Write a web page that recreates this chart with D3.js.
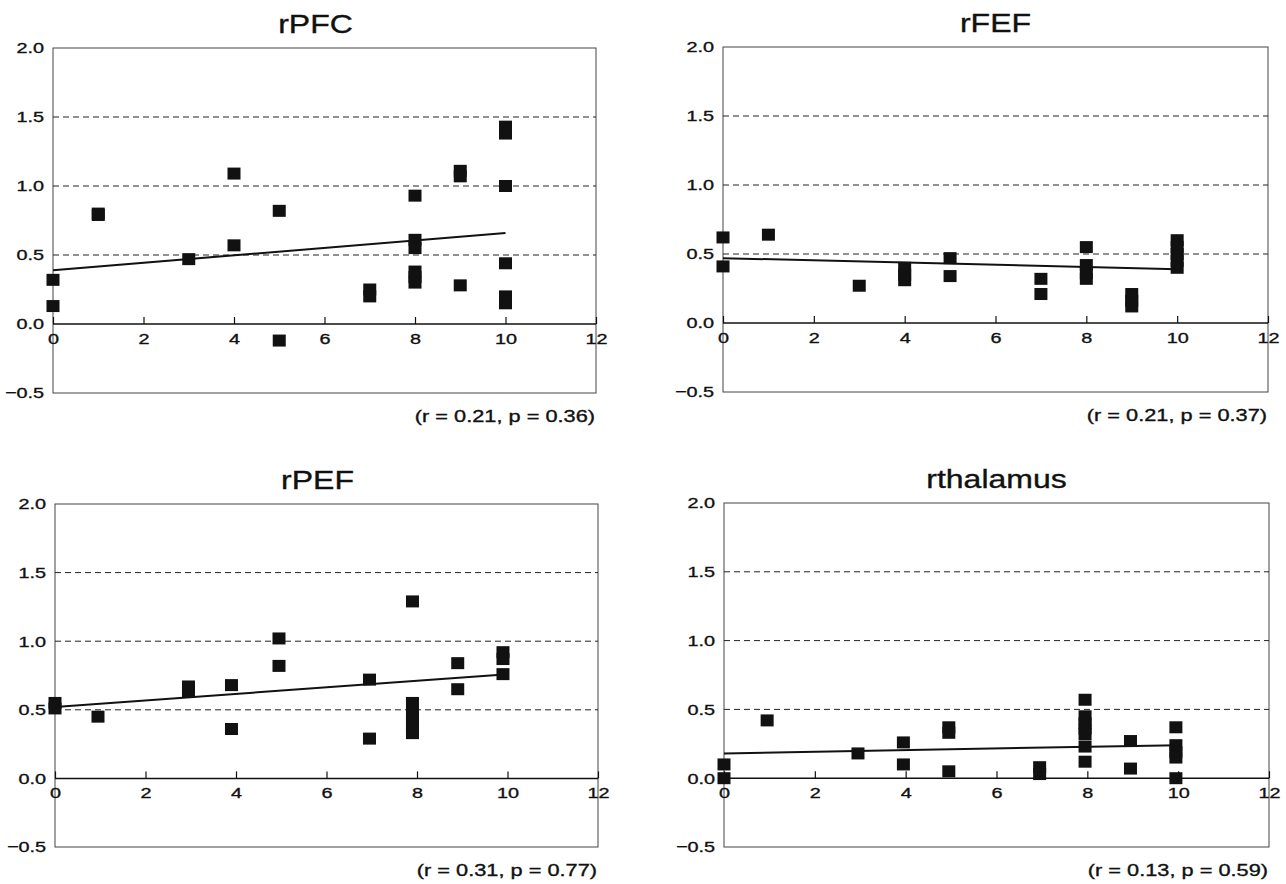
<html>
<meta charset="utf-8">
<head>
	<title>Scatter panels</title>
	<script src="https://d3js.org/d3.v7.min.js"></script>
</head>
<body style="margin:0;background:#fff">
<svg id="chart" width="1286" height="884"></svg>

<script>
	// panel names and stats text
	var titles = ["rPFC", "rFEF", "rPEF", "rthalamus"];
	var stats = ["(r = 0.21, p = 0.36)", "(r = 0.21, p = 0.37)", "(r = 0.31, p = 0.77)", "(r = 0.13, p = 0.59)"];

	// axis ticks
	var xTicks = [0, 2, 4, 6, 8, 10, 12];
	var yTicks = [-0.5, 0, 0.5, 1.0, 1.5, 2.0];
	var gridLines = [0.5, 1.0, 1.5];

	// rPFC
	var pfcX = [0, 0, 1, 1, 3, 4, 4, 5, 5, 7, 7, 8, 8, 8, 8, 8, 8, 9, 9, 9, 10, 10, 10, 10, 10, 10];
	var pfcY = [0.32, 0.13, 0.80, 0.79, 0.47, 1.09, 0.57, 0.82, -0.12, 0.25, 0.20, 0.93, 0.61, 0.55, 0.38, 0.34, 0.30, 1.11, 1.07, 0.28, 1.43, 1.38, 1.00, 0.44, 0.20, 0.15];
	var pfcFit = [0.39, 0.66];

	// rFEF
	var fefX = [0, 0, 1, 3, 4, 4, 4, 5, 5, 7, 7, 8, 8, 8, 8, 9, 9, 9, 10, 10, 10, 10, 10];
	var fefY = [0.62, 0.41, 0.64, 0.27, 0.40, 0.35, 0.31, 0.47, 0.34, 0.32, 0.21, 0.55, 0.42, 0.36, 0.32, 0.21, 0.16, 0.12, 0.60, 0.55, 0.50, 0.45, 0.40];
	var fefFit = [0.47, 0.39];

	// rPEF
	var pefX = [0, 0, 0.95, 2.95, 2.95, 3.9, 3.9, 4.95, 4.95, 6.95, 6.95, 7.9, 7.9, 7.9, 7.9, 7.9, 7.9, 8.9, 8.9, 9.9, 9.9, 9.9];
	var pefY = [0.55, 0.51, 0.45, 0.67, 0.63, 0.68, 0.36, 1.02, 0.82, 0.72, 0.29, 1.29, 0.55, 0.47, 0.42, 0.37, 0.33, 0.84, 0.65, 0.92, 0.87, 0.76];
	var pefFit = [0.52, 0.76];

	// rthalamus
	var thalX = [0, 0, 0.95, 2.95, 3.95, 3.95, 4.95, 4.95, 4.95, 6.95, 6.95, 7.95, 7.95, 7.95, 7.95, 7.95, 7.95, 7.95, 8.95, 8.95, 9.95, 9.95, 9.95, 9.95, 9.95];
	var thalY = [0.10, 0.0, 0.42, 0.18, 0.26, 0.10, 0.37, 0.33, 0.05, 0.08, 0.03, 0.57, 0.45, 0.40, 0.36, 0.32, 0.23, 0.12, 0.27, 0.07, 0.37, 0.24, 0.19, 0.15, 0.0];
	var thalFit = [0.18, 0.24];

	var allX = [pfcX, fefX, pefX, thalX];
	var allY = [pfcY, fefY, pefY, thalY];
	var allFit = [pfcFit, fefFit, pefFit, thalFit];

	// plot boxes: left, top, right, bottom
	var boxes = [
		[53, 48, 596, 393],
		[723, 47, 1268, 392],
		[55, 504, 598, 847],
		[724, 503, 1269, 847]
	];

	var svg = d3.select("#chart");
	var font = "'Liberation Sans', Arial, Helvetica, sans-serif";
	var stretch = 1.28; // the scanned figure is wider than tall

	function wideText(sel, x, y, size) {
		return sel.append("text")
			.attr("transform", "translate(" + x + "," + y + ") scale(" + stretch + ",1)")
			.attr("font-family", font)
			.attr("font-size", size)
			.attr("fill", "#111")
			.attr("stroke", "#111")
			.attr("stroke-width", 0.35);
	}

	boxes.forEach(function (b, i) {
		var x = d3.scaleLinear().domain([0, 12]).range([b[0], b[2]]);
		var y = d3.scaleLinear().domain([-0.5, 2.0]).range([b[3], b[1]]);
		var g = svg.append("g");

		// title
		wideText(g, (b[0] + b[2]) / 2 - (i % 2 === 0 ? 9 : 0), b[1] - 15, 25)
			.attr("text-anchor", "middle")
			.text(titles[i]);

		// frame
		g.append("rect")
			.attr("x", b[0]).attr("y", b[1])
			.attr("width", b[2] - b[0]).attr("height", b[3] - b[1])
			.attr("fill", "none")
			.attr("stroke", "#444")
			.attr("stroke-width", 1);

		// dashed grid
		g.selectAll("line.grid").data(gridLines).enter()
			.append("line")
			.attr("x1", b[0]).attr("x2", b[2])
			.attr("y1", function (d) { return y(d); })
			.attr("y2", function (d) { return y(d); })
			.attr("stroke", "#222")
			.attr("stroke-width", 1)
			.attr("stroke-dasharray", "6,4");

		// zero line
		g.append("line")
			.attr("x1", b[0]).attr("x2", b[2])
			.attr("y1", y(0)).attr("y2", y(0))
			.attr("stroke", "#111")
			.attr("stroke-width", 1.5);

		// x axis on zero line, ticks pointing up
		var xAxis = g.append("g")
			.attr("transform", "translate(0," + y(0) + ")")
			.call(d3.axisBottom(x).tickValues(xTicks).tickSize(-7).tickPadding(9).tickFormat(d3.format("d")));
		xAxis.select(".domain").remove();
		xAxis.selectAll("line").attr("stroke", "#111").attr("stroke-width", 1.2);
		xAxis.selectAll("text")
			.attr("transform", "scale(" + stretch + ",1)")
			.attr("font-family", font)
			.attr("font-size", 15.5)
			.attr("fill", "#111")
			.attr("stroke", "#111")
			.attr("stroke-width", 0.35);

		// y axis labels
		var yAxis = g.append("g")
			.attr("transform", "translate(" + b[0] + ",0)")
			.call(d3.axisLeft(y).tickValues(yTicks).tickSize(0).tickPadding(7).tickFormat(d3.format(".1f")));
		yAxis.select(".domain").remove();
		yAxis.selectAll("text")
			.attr("transform", "scale(" + stretch + ",1)")
			.attr("font-family", font)
			.attr("font-size", 15.5)
			.attr("fill", "#111")
			.attr("stroke", "#111")
			.attr("stroke-width", 0.35);

		// regression line
		g.append("line")
			.attr("x1", x(0)).attr("x2", x(10))
			.attr("y1", y(allFit[i][0])).attr("y2", y(allFit[i][1]))
			.attr("stroke", "#111")
			.attr("stroke-width", 2);

		// points
		var pts = allX[i].map(function (v, k) { return [v, allY[i][k]]; });
		var w = 13, h = 12;
		g.selectAll("rect.pt").data(pts).enter()
			.append("rect")
			.attr("x", function (d) { return x(d[0]) - w / 2; })
			.attr("y", function (d) { return y(d[1]) - h / 2; })
			.attr("width", w).attr("height", h)
			.attr("fill", "#111");

		// stats
		wideText(g, b[2] - 1, b[3] + 29, 17)
			.attr("text-anchor", "end")
			.text(stats[i]);
	});
</script>
</body>
</html>
